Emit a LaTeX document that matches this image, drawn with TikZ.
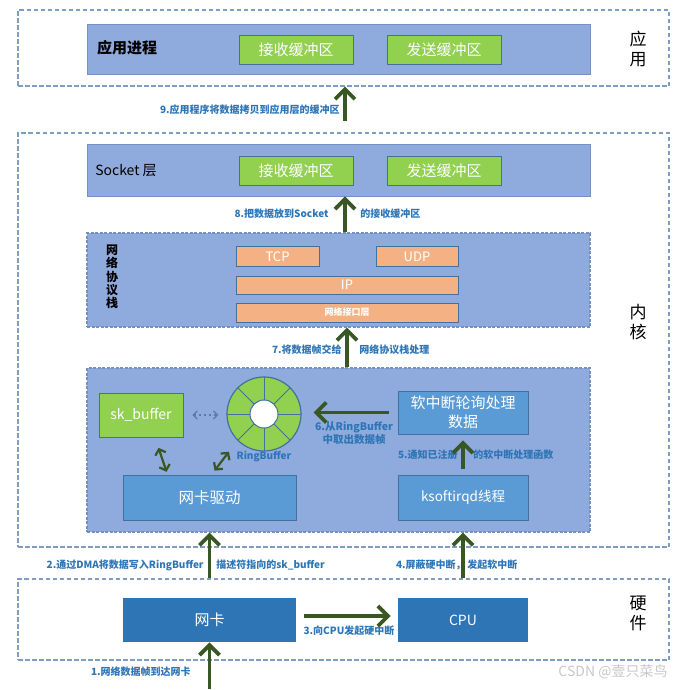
\documentclass[tikz,border=0pt]{standalone}
\usepackage{fontspec}
\setmainfont{Noto Sans CJK SC}
\usepackage{tikz}
\usetikzlibrary{arrows.meta}
\tikzset{every picture/.style={line width=0.75pt}}
\definecolor{layerblue}{HTML}{8FAADC}
\definecolor{layerline}{HTML}{7491C6}
\definecolor{bufgreen}{HTML}{92D050}
\definecolor{boxline}{HTML}{41719C}
\definecolor{protoorange}{HTML}{F4B183}
\definecolor{taskblue}{HTML}{5B9BD5}
\definecolor{devblue}{HTML}{2E75B6}
\definecolor{flowgreen}{HTML}{385723}
\definecolor{notetext}{HTML}{2E75B6}
\definecolor{zoneline}{HTML}{7F9CC4}
\definecolor{linkgray}{HTML}{5A7AA8}

\begin{document}
\begin{tikzpicture}[x=1pt, y=-1pt,
  zone/.style={draw=zoneline, line width=1.1pt, dash pattern=on 4.5pt off 2.5pt, minimum width=651pt, inner sep=0pt},
  layer/.style={draw=layerline, fill=layerblue, minimum width=503pt, inner sep=0pt},
  group/.style={layer, dash pattern=on 3pt off 1.5pt, line width=1.2pt},
  buf/.style={draw=boxline, fill=bufgreen, text=white, minimum width=114pt, minimum height=29pt, inner sep=0pt, font=\fontsize{15}{18}\selectfont},
  proto/.style={draw=boxline, fill=protoorange, text=white, minimum height=20pt, inner sep=0pt, font=\fontsize{13}{15}\selectfont},
  task/.style={draw=boxline, fill=taskblue, text=white, inner sep=0pt},
  dev/.style={fill=devblue, text=white, minimum height=44pt, inner sep=0pt, font=\fontsize{15}{18}\selectfont},
  side/.style={align=center, font=\fontsize{17}{20}\selectfont},
  note/.style={text=notetext, inner sep=0pt, font=\bfseries\fontsize{10}{12}\selectfont},
  flow/.style={draw=flowgreen, line width=3.8pt, -{Straight Barb[length=10pt,width=20pt]}},
  pair/.style={draw=flowgreen, line width=2.2pt, {Straight Barb[length=5pt,width=11pt]}-{Straight Barb[length=5pt,width=11pt]}},
  link/.style={draw=linkgray, line width=1.3pt, dash pattern=on 2pt off 3pt, {Straight Barb[length=4pt,width=8pt]}-{Straight Barb[length=4pt,width=8pt]}}]
\useasboundingbox (0,0) rectangle (698,689);
% application
\node[zone, minimum height=76pt] (appzone) at (343.5,48) {};
\node[layer, minimum height=50pt] (appbox) at (338.5,49) {};
\node[font=\bfseries\fontsize{15}{18}\selectfont] (apptitle) at (127,48) {应用进程};
\node[buf] (apprecv) at (296,49.5) {接收缓冲区};
\node[buf] (appsend) at (444,49.5) {发送缓冲区};
\node[side] (appside) at (638,49) {应\\用};
%
% kernel
\node[zone, minimum height=414pt] (kernzone) at (343.5,340) {};
\node[layer, minimum height=52pt] (sockbox) at (338.5,170) {};
\node[font=\fontsize{14}{17}\selectfont] (socktitle) at (126,171) {Socket 层};
\node[buf] (sockrecv) at (296,170.5) {接收缓冲区};
\node[buf] (socksend) at (444,170.5) {发送缓冲区};
\node[group, minimum height=94pt] (stack) at (338.5,280) {};
\node[align=center, font=\bfseries\fontsize{12}{13.3}\selectfont] (stacktitle) at (112,277) {网\\络\\协\\议\\栈};
\node[proto, minimum width=83pt] (tcp) at (277.5,256.5) {TCP};
\node[proto, minimum width=82pt] (udp) at (417,256.5) {UDP};
\node[proto, minimum width=222pt, minimum height=18pt] (ip) at (347,285) {IP};
\node[proto, minimum width=222pt, minimum height=19pt, font=\bfseries\fontsize{9}{11}\selectfont] (nif) at (347,312.5) {网络接口层};
\node[side] (kernside) at (638,322) {内\\核};
\node[group, minimum height=164pt] (drvzone) at (338.5,450) {};
\node[buf, minimum width=84pt, minimum height=44pt, font=\fontsize{14}{17}\selectfont] (skbuf) at (141,415) {sk\_buffer};
\node[circle, draw=boxline, fill=bufgreen, line width=1.2pt, minimum size=74pt, inner sep=0pt] (ring) at (264,414) {};
\foreach \a in {0,45,...,315}
  \draw[draw=boxline, line width=1pt] ([shift={(\a:14pt)}]ring.center) -- ([shift={(\a:37pt)}]ring.center);
\node[circle, draw=boxline, fill=white, line width=1pt, minimum size=28pt, inner sep=0pt] (hole) at (ring.center) {};
\node[note] (ringname) at (264,457) {RingBuffer};
\node[task, minimum width=130pt, minimum height=43pt, align=center, font=\fontsize{15}{19}\selectfont] (softirq) at (463,412.5) {软中断轮询处理\\数据};
\node[task, minimum width=173pt, minimum height=45pt, font=\fontsize{15.5}{18}\selectfont] (drv) at (209.5,497.5) {网卡驱动};
\node[task, minimum width=130pt, minimum height=45pt, font=\fontsize{13.5}{16}\selectfont] (ksoft) at (463,497.5) {ksoftirqd线程};
%
% hardware
\node[zone, minimum height=81pt] (hwzone) at (343.5,619.5) {};
\node[dev, minimum width=173pt] (nic) at (209.5,620) {网卡};
\node[dev, minimum width=130pt, font=\fontsize{14}{17}\selectfont] (cpu) at (463,620) {CPU};
\node[side] (hwside) at (638,613) {硬\\件};
%
% labels
\node[note, anchor=east] (n9) at (340,110) {9.应用程序将数据拷贝到应用层的缓冲区};
\node[note, anchor=east] (n8a) at (329,214) {8.把数据放到Socket};
\node[note, anchor=west] (n8b) at (360,214) {的接收缓冲区};
\node[note, anchor=east] (n7a) at (342,350) {7.将数据帧交给};
\node[note, anchor=west] (n7b) at (359,350) {网络协议栈处理};
\node[note, align=center, font=\bfseries\fontsize{10.5}{12.5}\selectfont] (n6) at (354,433) {6.从RingBuffer\\中取出数据帧};
\node[note, anchor=east] (n5a) at (458,455) {5.通知已注册};
\node[note, anchor=west] (n5b) at (473,455) {的软中断处理函数};
\node[note, anchor=east] (n2a) at (204,565) {2.通过DMA将数据写入RingBuffer};
\node[note, anchor=west] (n2b) at (216,565) {描述符指向的sk\_buffer};
\node[note, anchor=east] (n4a) at (466,565) {4.屏蔽硬中断，};
\node[note, anchor=west] (n4b) at (467,565) {发起软中断};
\node[note] (n3) at (349,631) {3.向CPU发起硬中断};
\node[note, anchor=east] (n1) at (191,672) {1.网络数据帧到达网卡};
\node[text=black!22, font=\fontsize{14}{17}\selectfont] (mark) at (613,672) {CSDN @壹只菜鸟};
%
% connectors
\coordinate (a9) at (345,121);
\coordinate (a1) at (209.5,689);
\draw[flow] (a9) -- (a9 |- appzone.south);
\draw[flow] ([xshift=6.5pt]stack.north) -- ([xshift=6.5pt]sockbox.south);
\draw[flow] ([xshift=8.5pt]drvzone.north) -- ([xshift=8.5pt]stack.south);
\draw[flow, shorten <=9pt, shorten >=12pt] (softirq.west) -- (ring.east |- softirq.west);
\draw[flow, shorten <=6pt, shorten >=6pt] (ksoft.north) -- (softirq.south);
\draw[pair, shorten <=11pt, shorten >=3pt] ([xshift=14pt]skbuf.south) -- ([xshift=-42pt]drv.north);
\draw[pair, shorten <=5pt, shorten >=14pt] ([xshift=2pt]drv.north) -- (ring.south west);
\draw[link, shorten <=9pt, shorten >=8pt] (skbuf.east) -- (ring.west |- skbuf.east);
\draw[flow] (hwzone.north -| drv) -- (drvzone.south -| drv);
\draw[flow] (hwzone.north -| ksoft) -- (drvzone.south -| ksoft);
\draw[flow, shorten <=8pt, shorten >=7pt] ([yshift=4pt]nic.east) -- ([yshift=4pt]cpu.west);
\draw[flow] (a1) -- (nic.south);
\end{tikzpicture}
\end{document}
